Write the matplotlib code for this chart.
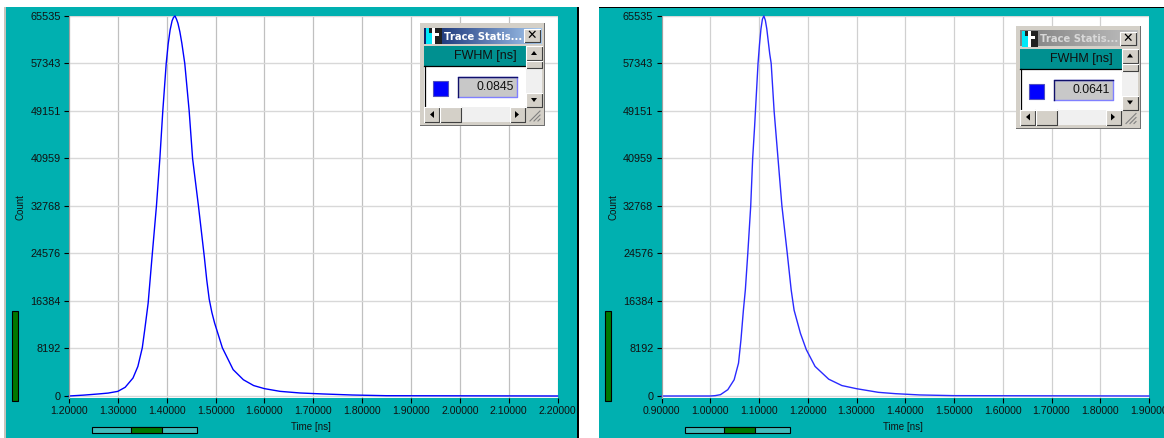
import numpy as np
import matplotlib
matplotlib.use('Agg')
import matplotlib.pyplot as plt
from matplotlib.patches import Rectangle, Polygon

plt.rcParams['font.family'] = ['Liberation Sans', 'DejaVu Sans']

W, H = 1164, 438

y_ticks = [0, 8192, 16384, 24576, 32768, 40959, 49151, 57343, 65535]

left_time = [1.20, 1.23, 1.26, 1.28, 1.30, 1.315, 1.331, 1.341, 1.350, 1.355, 1.362, 1.370, 1.379, 1.386,
             1.392, 1.399, 1.403, 1.407, 1.411, 1.414, 1.417, 1.420, 1.423, 1.427, 1.431, 1.437, 1.446,
             1.453, 1.465, 1.477, 1.482, 1.487, 1.4925, 1.498, 1.514, 1.536, 1.557, 1.578, 1.600, 1.632,
             1.673, 1.72, 1.78, 1.85, 2.20]
left_count = [0, 150, 350, 500, 800, 1500, 3100, 5100, 8300, 11400, 16000, 24000, 32768, 40959,
              49151, 57343, 60700, 63130, 64700, 65300, 65535, 65000, 64280, 62800, 60840, 57343, 49151,
              40959, 32768, 24000, 20000, 16700, 14400, 12600, 8300, 4550, 2800, 1800, 1270, 800,
              520, 350, 170, 50, 0]
left_ticks = [1.2, 1.3, 1.4, 1.5, 1.6, 1.7, 1.8, 1.9, 2.0, 2.1, 2.2]

right_time = [0.90, 1.00, 1.010, 1.021, 1.036, 1.049, 1.058, 1.063, 1.068, 1.072, 1.077, 1.083, 1.087,
              1.091, 1.098, 1.101, 1.104, 1.107, 1.110, 1.113, 1.116, 1.122, 1.125, 1.131, 1.139, 1.147,
              1.158, 1.166, 1.172, 1.185, 1.197, 1.215, 1.243, 1.270, 1.300, 1.345, 1.380, 1.430, 1.500,
              1.90]
right_count = [0, 0, 60, 230, 1090, 2800, 5670, 9700, 14800, 18300, 24576, 32768, 40959,
               46500, 57343, 60600, 63300, 65000, 65535, 64800, 63300, 59000, 57343, 49151, 40959, 32768,
               24576, 18300, 14800, 10800, 8000, 5100, 2900, 1800, 1260, 630, 400, 180, 60,
               0]
right_ticks = [0.9, 1.0, 1.1, 1.2, 1.3, 1.4, 1.5, 1.6, 1.7, 1.8, 1.9]

fwhm_left = '0.0845'
fwhm_right = '0.0641'
win_title = 'Trace Statis...'

TEAL = '#00b0b0'
GREEN = '#007800'


def px_axes(fig, x0, y0, x1, y1, **kw):
    # rectangle given in image pixels, y going down
    return fig.add_axes([x0 / W, 1 - y1 / H, (x1 - x0) / W, (y1 - y0) / H], **kw)


def draw_plot(fig, x0, x1, xlim, ticks, t, c, line_color, grid_color):
    ax = px_axes(fig, x0, 16, x1, 397.5)
    ax.set_facecolor('white')
    ax.set_xlim(*xlim)
    ax.set_ylim(-260, 65535)
    ax.set_xticks(ticks)
    ax.set_xticklabels(['%.5f' % v for v in ticks], fontsize=7.6, color='#111111')
    ax.set_yticks(y_ticks)
    ax.set_yticklabels([str(v) for v in y_ticks], fontsize=7.8, color='#111111')
    ax.tick_params(axis='x', length=3.4, width=0.8, pad=2.5)
    ax.tick_params(axis='y', length=3.4, width=0.8, pad=2.5)
    ax.grid(True, axis='x', color=grid_color, lw=0.9)
    ax.grid(True, axis='y', color='#d8d8d8', lw=1.0)
    ax.set_axisbelow(True)
    for s in ax.spines.values():
        s.set_visible(False)
    ax.spines['left'].set_visible(True)
    ax.spines['left'].set_color('#a0a0a0')
    ax.plot(t, c, color=line_color, lw=1.0, clip_on=False)
    return ax


def rect(ov, x0, y0, x1, y1, fc, ec='none', lw=0.8, z=3):
    ov.add_patch(Rectangle((x0, y0), x1 - x0, y1 - y0, fc=fc, ec=ec, lw=lw, zorder=z))


def button(ov, x0, y0, x1, y1, z=6):
    rect(ov, x0, y0, x1, y1, '#d4d0c8', z=z)
    ov.plot([x0, x1, x1], [y1, y1, y0], color='#404040', lw=0.8, zorder=z + 1)
    ov.plot([x0, x0, x1], [y1, y0, y0], color='white', lw=0.8, zorder=z + 1)


def tri(ov, pts):
    ov.add_patch(Polygon(pts, fc='black', ec='none', zorder=9))


def stats_window(ov, ox, oy, grad, text_color, value):
    def X(v):
        return ox + v

    def Y(v):
        return oy + v

    # shadow and frame
    rect(ov, X(0), Y(0), X(125), Y(103), '#707070', z=4)
    rect(ov, X(0), Y(0), X(124), Y(102), '#d4d0c8', z=4)
    # title bar
    g = np.linspace(0, 1, 128).reshape(1, -1)
    cols = np.array([np.interp(g[0], [0, 1], [grad[0][k], grad[1][k]]) for k in range(3)]).T
    ov.imshow(cols.reshape(1, -1, 3), extent=[X(4), X(122), Y(21), Y(5)], aspect='auto', zorder=5)
    # icon
    rect(ov, X(6), Y(5), X(22), Y(21), '#202020', z=6)
    rect(ov, X(6), Y(10), X(12), Y(21), '#00e8f8', z=7)
    rect(ov, X(6), Y(5), X(9), Y(10), '#00e8f8', z=7)
    rect(ov, X(12), Y(5), X(15), Y(21), 'white', z=7)
    rect(ov, X(15), Y(10), X(19), Y(13), 'white', z=7)
    ov.text(X(23.5), Y(13.5), win_title, color=text_color, fontsize=7.2, fontweight='bold',
            family=['DejaVu Sans'], va='center', ha='left', zorder=8)
    button(ov, X(104), Y(6), X(120), Y(19))
    ov.text(X(112), Y(12.5), '\u2715', fontsize=9, ha='center', va='center', zorder=9,
            fontweight='bold', family=['DejaVu Sans'], color='black')
    # column header and list area
    rect(ov, X(4), Y(23), X(106), Y(43), '#009090', z=5)
    ov.text(X(97), Y(33.5), 'FWHM [ns]', fontsize=9, ha='right', va='center', color='#101010', zorder=8)
    rect(ov, X(4), Y(43), X(106), Y(84), 'white', z=5)
    ov.plot([X(4), X(106)], [Y(43), Y(43)], color='black', lw=0.9, zorder=6)
    ov.plot([X(4.5), X(4.5)], [Y(43), Y(84)], color='black', lw=0.9, zorder=6)
    rect(ov, X(13), Y(58), X(28), Y(73), '#0000ff', ec='#5050c0', z=6)
    rect(ov, X(38), Y(54), X(97), Y(74), '#c8c8c8', z=6)
    ov.plot([X(38), X(97), X(97), X(38)], [Y(54), Y(54), Y(74), Y(74)], color='#8080ff', lw=1, zorder=7)
    ov.plot([X(38), X(38), X(97)], [Y(74), Y(54), Y(54)], color='#10106a', lw=1, zorder=7)
    ov.text(X(94), Y(64.5), value, fontsize=8.8, ha='right', va='center', color='#101010', zorder=8)
    # vertical scrollbar
    rect(ov, X(106), Y(23), X(122), Y(84), '#f0f0f0', z=5)
    button(ov, X(106), Y(23), X(122), Y(37))
    button(ov, X(106), Y(38), X(122), Y(45))
    button(ov, X(106), Y(70), X(122), Y(84))
    tri(ov, [(X(111), Y(32)), (X(117), Y(32)), (X(114), Y(28))])
    tri(ov, [(X(111), Y(75)), (X(117), Y(75)), (X(114), Y(79))])
    # horizontal scrollbar
    rect(ov, X(4), Y(84), X(122), Y(99), '#f0f0f0', z=5)
    button(ov, X(4), Y(84), X(19), Y(99))
    button(ov, X(20), Y(84), X(41), Y(99))
    button(ov, X(90), Y(84), X(105), Y(99))
    tri(ov, [(X(14), Y(88)), (X(14), Y(95)), (X(10), Y(91.5))])
    tri(ov, [(X(95), Y(88)), (X(95), Y(95)), (X(99), Y(91.5))])
    rect(ov, X(106), Y(84), X(122), Y(99), '#d4d0c8', z=6)
    for d in (0, 4, 8):
        ov.plot([X(110 + d), X(120)], [Y(98), Y(88 + d)], color='#808080', lw=0.8, zorder=7)


fig = plt.figure(figsize=(W / 100, H / 100), dpi=100, facecolor='white')

# teal panels behind everything
bg = px_axes(fig, 0, 0, W, H, zorder=0)
bg.set_xlim(0, W)
bg.set_ylim(H, 0)
bg.axis('off')
rect(bg, 4, 7, 5.5, H, '#c8c4bc')
rect(bg, 5.5, 7, 577, H, TEAL)
rect(bg, 577, 7, 578.5, H, 'black')
rect(bg, 599, 8, W, H, TEAL)
rect(bg, 599, 7, W, 8, 'black')

draw_plot(fig, 69, 557.5, (1.2, 2.2), left_ticks, left_time, left_count, '#0000ff', '#c0c0c0')
draw_plot(fig, 661.5, 1149, (0.9, 1.9), right_ticks, right_time, right_count, '#2a2aff', '#d0d0d0')

# everything that sits on top of the plots
ov = px_axes(fig, 0, 0, W, H, zorder=5)
ov.patch.set_alpha(0)
ov.axis('off')

for dx, x_lab in ((0, 291), (593, 883)):
    rect(ov, 12 + dx, 311, 18 + dx, 401, GREEN, ec='black')
    rect(ov, 91.5 + dx, 426.5, 197 + dx, 432.5, '#40bcbc', ec='black')
    rect(ov, 130.5 + dx, 426.5, 161.5 + dx, 432.5, GREEN, ec='black', z=4)
    ov.text(x_lab, 427, 'Time [ns]', fontsize=7, ha='left', va='center', color='#111111')
    ov.text(20.5 + dx, 207, 'Count', fontsize=7, rotation=90, ha='center', va='center', color='#111111')

stats_window(ov, 420, 23, [(0.04, 0.14, 0.42), (0.65, 0.79, 0.94)], 'white', fwhm_left)
stats_window(ov, 1016, 25.5, [(0.5, 0.5, 0.5), (0.75, 0.75, 0.75)], '#d8d8d8', fwhm_right)

ov.set_xlim(0, W)
ov.set_ylim(H, 0)

fig.savefig('out.png', dpi=100)
plt.close(fig)
